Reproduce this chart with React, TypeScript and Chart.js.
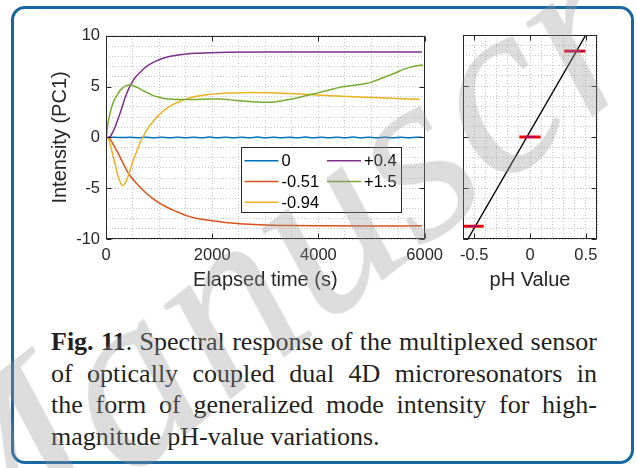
import React, { useEffect, useRef } from "react";
import { Chart, registerables } from "chart.js";

Chart.register(...registerables);

// ---------------- data ----------------
const timeTickLabels = [0, 2000, 4000, 6000];
const intensityTickLabels = [-10, -5, 0, 5, 10];
const phTickLabels = [-0.5, 0, 0.5];

const seriesLabels = ["0", "-0.51", "-0.94", "+0.4", "+1.5"];
const seriesColors = ["#0072BD", "#D95319", "#EDB120", "#7E2F8E", "#77AC30"];

const timeZero = [0, 150, 300, 450, 600, 750, 900, 1050, 1200, 1350, 1500, 1650, 1800, 1950, 2100, 2250, 2400, 2550, 2700, 2850, 3000, 3150, 3300, 3450, 3600, 3750, 3900, 4050, 4200, 4350, 4500, 4650, 4800, 4950, 5100, 5250, 5400, 5550, 5700, 5850, 5950];
const valuesZero = [0, 0.01, -0.01, 0.01, -0.02, 0.02, -0.02, 0.03, -0.02, 0.03, -0.03, 0.03, -0.03, 0.04, -0.03, 0.03, -0.03, 0.03, -0.03, 0.04, -0.03, 0.03, -0.04, 0.03, -0.03, 0.04, -0.03, 0.03, -0.03, 0.03, -0.03, 0.04, -0.03, 0.03, -0.03, 0.03, -0.03, 0.03, -0.03, 0.02, 0];

const timeM051 = [40, 75, 138, 200, 300, 389, 480, 577, 670, 764, 890, 1015, 1141, 1266, 1400, 1517, 1650, 1768, 1900, 2082, 2300, 2600, 3000, 3500, 4000, 5000, 5950];
const valuesM051 = [0, -0.13, -0.7, -1.27, -2.3, -3.24, -3.95, -4.54, -5.05, -5.52, -6.05, -6.5, -6.85, -7.16, -7.45, -7.7, -7.9, -8.02, -8.12, -8.25, -8.4, -8.52, -8.62, -8.68, -8.7, -8.72, -8.7];

const timeM094 = [40, 90, 138, 185, 232, 275, 312, 350, 389, 450, 514, 580, 639, 702, 764, 890, 1015, 1141, 1266, 1392, 1517, 1642, 1768, 1893, 2112, 2332, 2708, 3085, 3461, 3837, 4150, 4652, 5278, 5906];
const valuesM094 = [0, -0.9, -1.93, -2.95, -3.9, -4.5, -4.75, -4.6, -4.2, -3.3, -2.25, -1.35, -0.55, 0.1, 0.7, 1.6, 2.3, 2.85, 3.25, 3.55, 3.8, 3.98, 4.1, 4.2, 4.3, 4.37, 4.43, 4.4, 4.32, 4.22, 4.12, 4.02, 3.88, 3.75];

const timeP04 = [40, 80, 125, 170, 215, 263, 310, 350, 400, 451, 500, 550, 639, 750, 890, 1000, 1141, 1300, 1517, 1750, 1956, 2300, 3000, 4000, 5000, 5950];
const valuesP04 = [0, 0.1, 0.5, 1.0, 1.65, 2.35, 3.1, 3.75, 4.45, 5.05, 5.5, 5.9, 6.4, 6.95, 7.4, 7.65, 7.9, 8.08, 8.22, 8.3, 8.35, 8.4, 8.42, 8.42, 8.42, 8.42];

const timeP15 = [10, 25, 60, 107, 150, 200, 260, 326, 380, 432, 514, 600, 702, 800, 890, 1000, 1141, 1250, 1392, 1600, 1768, 1956, 2150, 2332, 2500, 2708, 2850, 3022, 3180, 3335, 3500, 3649, 3800, 3900, 4025, 4150, 4401, 4600, 4840, 5000, 5153, 5300, 5467, 5600, 5717, 5850, 5968];
const valuesP15 = [0, 1.0, 2.0, 3.0, 3.6, 4.1, 4.6, 4.93, 5.1, 5.17, 5.1, 4.9, 4.6, 4.35, 4.12, 3.95, 3.8, 3.75, 3.73, 3.73, 3.75, 3.79, 3.78, 3.7, 3.62, 3.53, 3.48, 3.46, 3.5, 3.63, 3.78, 3.95, 4.15, 4.28, 4.44, 4.6, 4.93, 5.08, 5.26, 5.45, 5.75, 6.05, 6.4, 6.7, 6.9, 7.05, 7.13];

const seriesTimes = [timeZero, timeM051, timeM094, timeP04, timeP15];
const seriesValues = [valuesZero, valuesM051, valuesM094, valuesP04, valuesP15];

// pH calibration panel
const phLevels = [-0.51, 0, 0.4];
const phIntensity = [-8.75, 0, 8.42];
const phSpreadOuter = [0.095, 0.095, 0.095];
const phSpreadInner = [0.05, 0.05, 0.08];
const fitPh = [-0.556, 0.5];
const fitIntensity = [-10, 10];

const captionLines = [
  "Spectral response of the multiplexed sensor",
  "of optically coupled dual 4D microresonators in",
  "the form of generalized mode intensity for high-",
  "magnitude pH-value variations.",
];

// ---------------- style ----------------
const SANS = "'Liberation Sans', Arial, Helvetica, sans-serif";
const SERIF = "'Liberation Serif', 'Times New Roman', serif";
const AXIS_COLOR = "#262626";
const GRID_COLOR = "#c4c4c4";

const matlabAxes = {
  id: "matlabAxes",
  afterDatasetsDraw(chart: any, _args: any, opts: any) {
    const { ctx, chartArea: ca, scales } = chart;
    ctx.save();
    if (opts.legend) {
      const L = opts.legend;
      const bx = Math.round(ca.left + L.dx) + 0.5;
      const by = Math.round(ca.top + L.dy) + 0.5;
      ctx.fillStyle = "#ffffff";
      ctx.fillRect(bx, by, L.w, L.h);
      ctx.strokeStyle = "#262626";
      ctx.lineWidth = 1;
      ctx.strokeRect(bx, by, L.w, L.h);
      ctx.font = `16.5px ${SANS}`;
      ctx.textBaseline = "middle";
      ctx.textAlign = "left";
      chart.data.datasets.forEach((ds: any, i: number) => {
        const col = Math.floor(i / L.rows);
        const row = i % L.rows;
        const x0 = bx + L.pad + col * L.colW;
        const y0 = by + L.firstRow + row * L.rowH;
        ctx.strokeStyle = ds.borderColor;
        ctx.lineWidth = 1.5;
        ctx.beginPath();
        ctx.moveTo(x0, y0);
        ctx.lineTo(x0 + L.lineLen, y0);
        ctx.stroke();
        ctx.fillStyle = "#000000";
        ctx.fillText(ds.label, x0 + L.lineLen + 3, y0 + 1);
      });
    }
    ctx.strokeStyle = AXIS_COLOR;
    ctx.lineWidth = 1;
    const l = Math.round(ca.left) + 0.5;
    const r = Math.round(ca.right) - 0.5;
    const t = Math.round(ca.top) + 0.5;
    const b = Math.round(ca.bottom) - 0.5;
    ctx.strokeRect(l, t, r - l, b - t);
    const len = 5;
    ctx.beginPath();
    for (const v of opts.xTicks) {
      const px = Math.round(scales.x.getPixelForValue(v)) + 0.5;
      ctx.moveTo(px, b);
      ctx.lineTo(px, b - len);
      ctx.moveTo(px, t);
      ctx.lineTo(px, t + len);
    }
    for (const v of opts.yTicks) {
      const py = Math.round(scales.y.getPixelForValue(v)) + 0.5;
      ctx.moveTo(l, py);
      ctx.lineTo(l + len, py);
      ctx.moveTo(r, py);
      ctx.lineTo(r - len, py);
    }
    ctx.stroke();
    ctx.restore();
  },
};

const isMajor = (list: number[], v: number) => list.find((p) => Math.abs(p - v) < 1e-9);

export default function App() {
  const leftRef = useRef<HTMLCanvasElement>(null);
  const rightRef = useRef<HTMLCanvasElement>(null);

  useEffect(() => {
    const datasets = seriesLabels.map((label, i) => ({
      label,
      data: seriesTimes[i].map((t, j) => ({ x: t, y: seriesValues[i][j] })),
      borderColor: seriesColors[i],
      backgroundColor: seriesColors[i],
      borderWidth: 1.5,
      pointRadius: 0,
      cubicInterpolationMode: "monotone" as const,
      order: seriesLabels.length - i,
    }));

    const left = new Chart(leftRef.current!, {
      type: "line",
      data: { datasets },
      options: {
        animation: false,
        responsive: false,
        devicePixelRatio: 1,
        events: [],
        layout: { padding: { top: 15, right: 25, bottom: 0, left: 0 } },
        plugins: {
          legend: { display: false },
          tooltip: { enabled: false },
          matlabAxes: {
            xTicks: timeTickLabels,
            yTicks: intensityTickLabels,
            legend: { dx: 135, dy: 111.5, w: 160, h: 65, rows: 3, colW: 82.5, pad: 3, firstRow: 13.3, rowH: 20.7, lineLen: 34 },
          },
        } as any,
        scales: {
          x: {
            type: "linear",
            min: 0,
            max: 6000,
            afterFit: (s: any) => { s.height = 57; },
            ticks: {
              stepSize: 500,
              autoSkip: false,
              maxRotation: 0,
              padding: 7,
              color: AXIS_COLOR,
              font: { family: SANS, size: 16.5 },
              callback: (v: any) => (isMajor(timeTickLabels, v) !== undefined ? String(v) : ""),
            },
            grid: { color: GRID_COLOR, drawTicks: false, lineWidth: 1 },
            border: { display: false, dash: [1, 2] },
            title: { display: true, text: "Elapsed time (s)", color: AXIS_COLOR, font: { family: SANS, size: 20 }, padding: 4 },
          },
          y: {
            type: "linear",
            min: -10,
            max: 10,
            afterFit: (s: any) => { s.width = 62; },
            ticks: {
              stepSize: 1,
              autoSkip: false,
              padding: 6,
              color: AXIS_COLOR,
              font: { family: SANS, size: 16.5 },
              callback: (v: any) => (isMajor(intensityTickLabels, v) !== undefined ? String(v) : ""),
            },
            grid: { color: GRID_COLOR, drawTicks: false, lineWidth: 1 },
            border: { display: false, dash: [1, 2] },
            title: { display: true, text: "Intensity (PC1)", color: AXIS_COLOR, font: { family: SANS, size: 20 }, padding: 4 },
          },
        },
      },
      plugins: [matlabAxes],
    } as any);

    const phDatasets: any[] = [
      {
        label: "fit",
        data: fitPh.map((p, j) => ({ x: p, y: fitIntensity[j] })),
        borderColor: "#000000",
        borderWidth: 1.4,
        pointRadius: 0,
        order: 10,
      },
    ];
    phLevels.forEach((p, i) => {
      phDatasets.push({
        label: "spread",
        data: [
          { x: p - phSpreadOuter[i], y: phIntensity[i] },
          { x: p + phSpreadOuter[i], y: phIntensity[i] },
        ],
        borderColor: "#ff0000",
        borderWidth: 3,
        pointRadius: 0,
        order: 5,
      });
      phDatasets.push({
        label: "mean",
        data: [
          { x: p - phSpreadInner[i], y: phIntensity[i] },
          { x: p + phSpreadInner[i], y: phIntensity[i] },
        ],
        borderColor: "rgba(60,20,200,0.55)",
        borderWidth: 1.5,
        pointRadius: 0,
        order: 1,
      });
    });

    const right = new Chart(rightRef.current!, {
      type: "line",
      data: { datasets: phDatasets },
      options: {
        animation: false,
        responsive: false,
        devicePixelRatio: 1,
        events: [],
        layout: { padding: { top: 15, right: 23, bottom: 0, left: 0 } },
        plugins: {
          legend: { display: false },
          tooltip: { enabled: false },
          matlabAxes: { xTicks: phTickLabels, yTicks: intensityTickLabels },
        } as any,
        scales: {
          x: {
            type: "linear",
            min: -0.6,
            max: 0.6,
            afterFit: (s: any) => { s.height = 57; },
            ticks: {
              stepSize: 0.1,
              autoSkip: false,
              maxRotation: 0,
              padding: 7,
              color: AXIS_COLOR,
              font: { family: SANS, size: 16.5 },
              callback: (v: any) => {
                const m = isMajor(phTickLabels, v);
                return m !== undefined ? String(m) : "";
              },
            },
            grid: { color: GRID_COLOR, drawTicks: false, lineWidth: 1 },
            border: { display: false, dash: [1, 2] },
            title: { display: true, text: "pH Value", color: AXIS_COLOR, font: { family: SANS, size: 20 }, padding: 4 },
          },
          y: {
            type: "linear",
            min: -10,
            max: 10,
            afterFit: (s: any) => { s.width = 13; },
            ticks: { stepSize: 1, autoSkip: false, display: false },
            grid: { color: GRID_COLOR, drawTicks: false, lineWidth: 1 },
            border: { display: false, dash: [1, 2] },
          },
        },
      },
      plugins: [matlabAxes],
    } as any);

    return () => {
      left.destroy();
      right.destroy();
    };
  }, []);

  return (
    <div style={{ position: "relative", width: 637, height: 468, background: "#ffffff", overflow: "hidden" }}>
      <style>{`body{margin:0;}`}</style>
      <div
        style={{
          position: "absolute",
          left: 11,
          top: 6,
          width: 623,
          height: 458,
          border: "3px solid #1767a2",
          borderRadius: 14,
          boxSizing: "border-box",
        }}
      />
      <canvas
        ref={leftRef}
        width={406}
        height={276}
        style={{ position: "absolute", left: 44, top: 20, width: 406, height: 276 }}
      />
      <canvas
        ref={rightRef}
        width={170}
        height={276}
        style={{ position: "absolute", left: 450, top: 20, width: 170, height: 276 }}
      />
      <div
        style={{
          position: "absolute",
          left: 51,
          top: 326,
          width: 546,
          font: `26px ${SERIF}`,
          color: "#231f20",
        }}
      >
        {captionLines.map((line, i) => (
          <div
            key={i}
            style={{
              height: 31.5,
              lineHeight: "31.5px",
              textAlign: "justify",
              textAlignLast: i < captionLines.length - 1 ? "justify" : "left",
              whiteSpace: "nowrap",
            } as any}
          >
            {i === 0 ? (
              <>
                <b>Fig. 11</b>.{" "}
              </>
            ) : null}
            {line}
          </div>
        ))}
      </div>
      <div
        style={{
          position: "absolute",
          left: -103,
          top: 404,
          height: 250,
          lineHeight: "250px",
          font: `italic 250px ${SERIF}`,
          color: "rgba(150,150,150,0.33)",
          whiteSpace: "nowrap",
          transformOrigin: "0 50%",
          transform: "rotate(-38deg)",
          pointerEvents: "none",
        }}
      >
        Manuscript
      </div>
    </div>
  );
}
